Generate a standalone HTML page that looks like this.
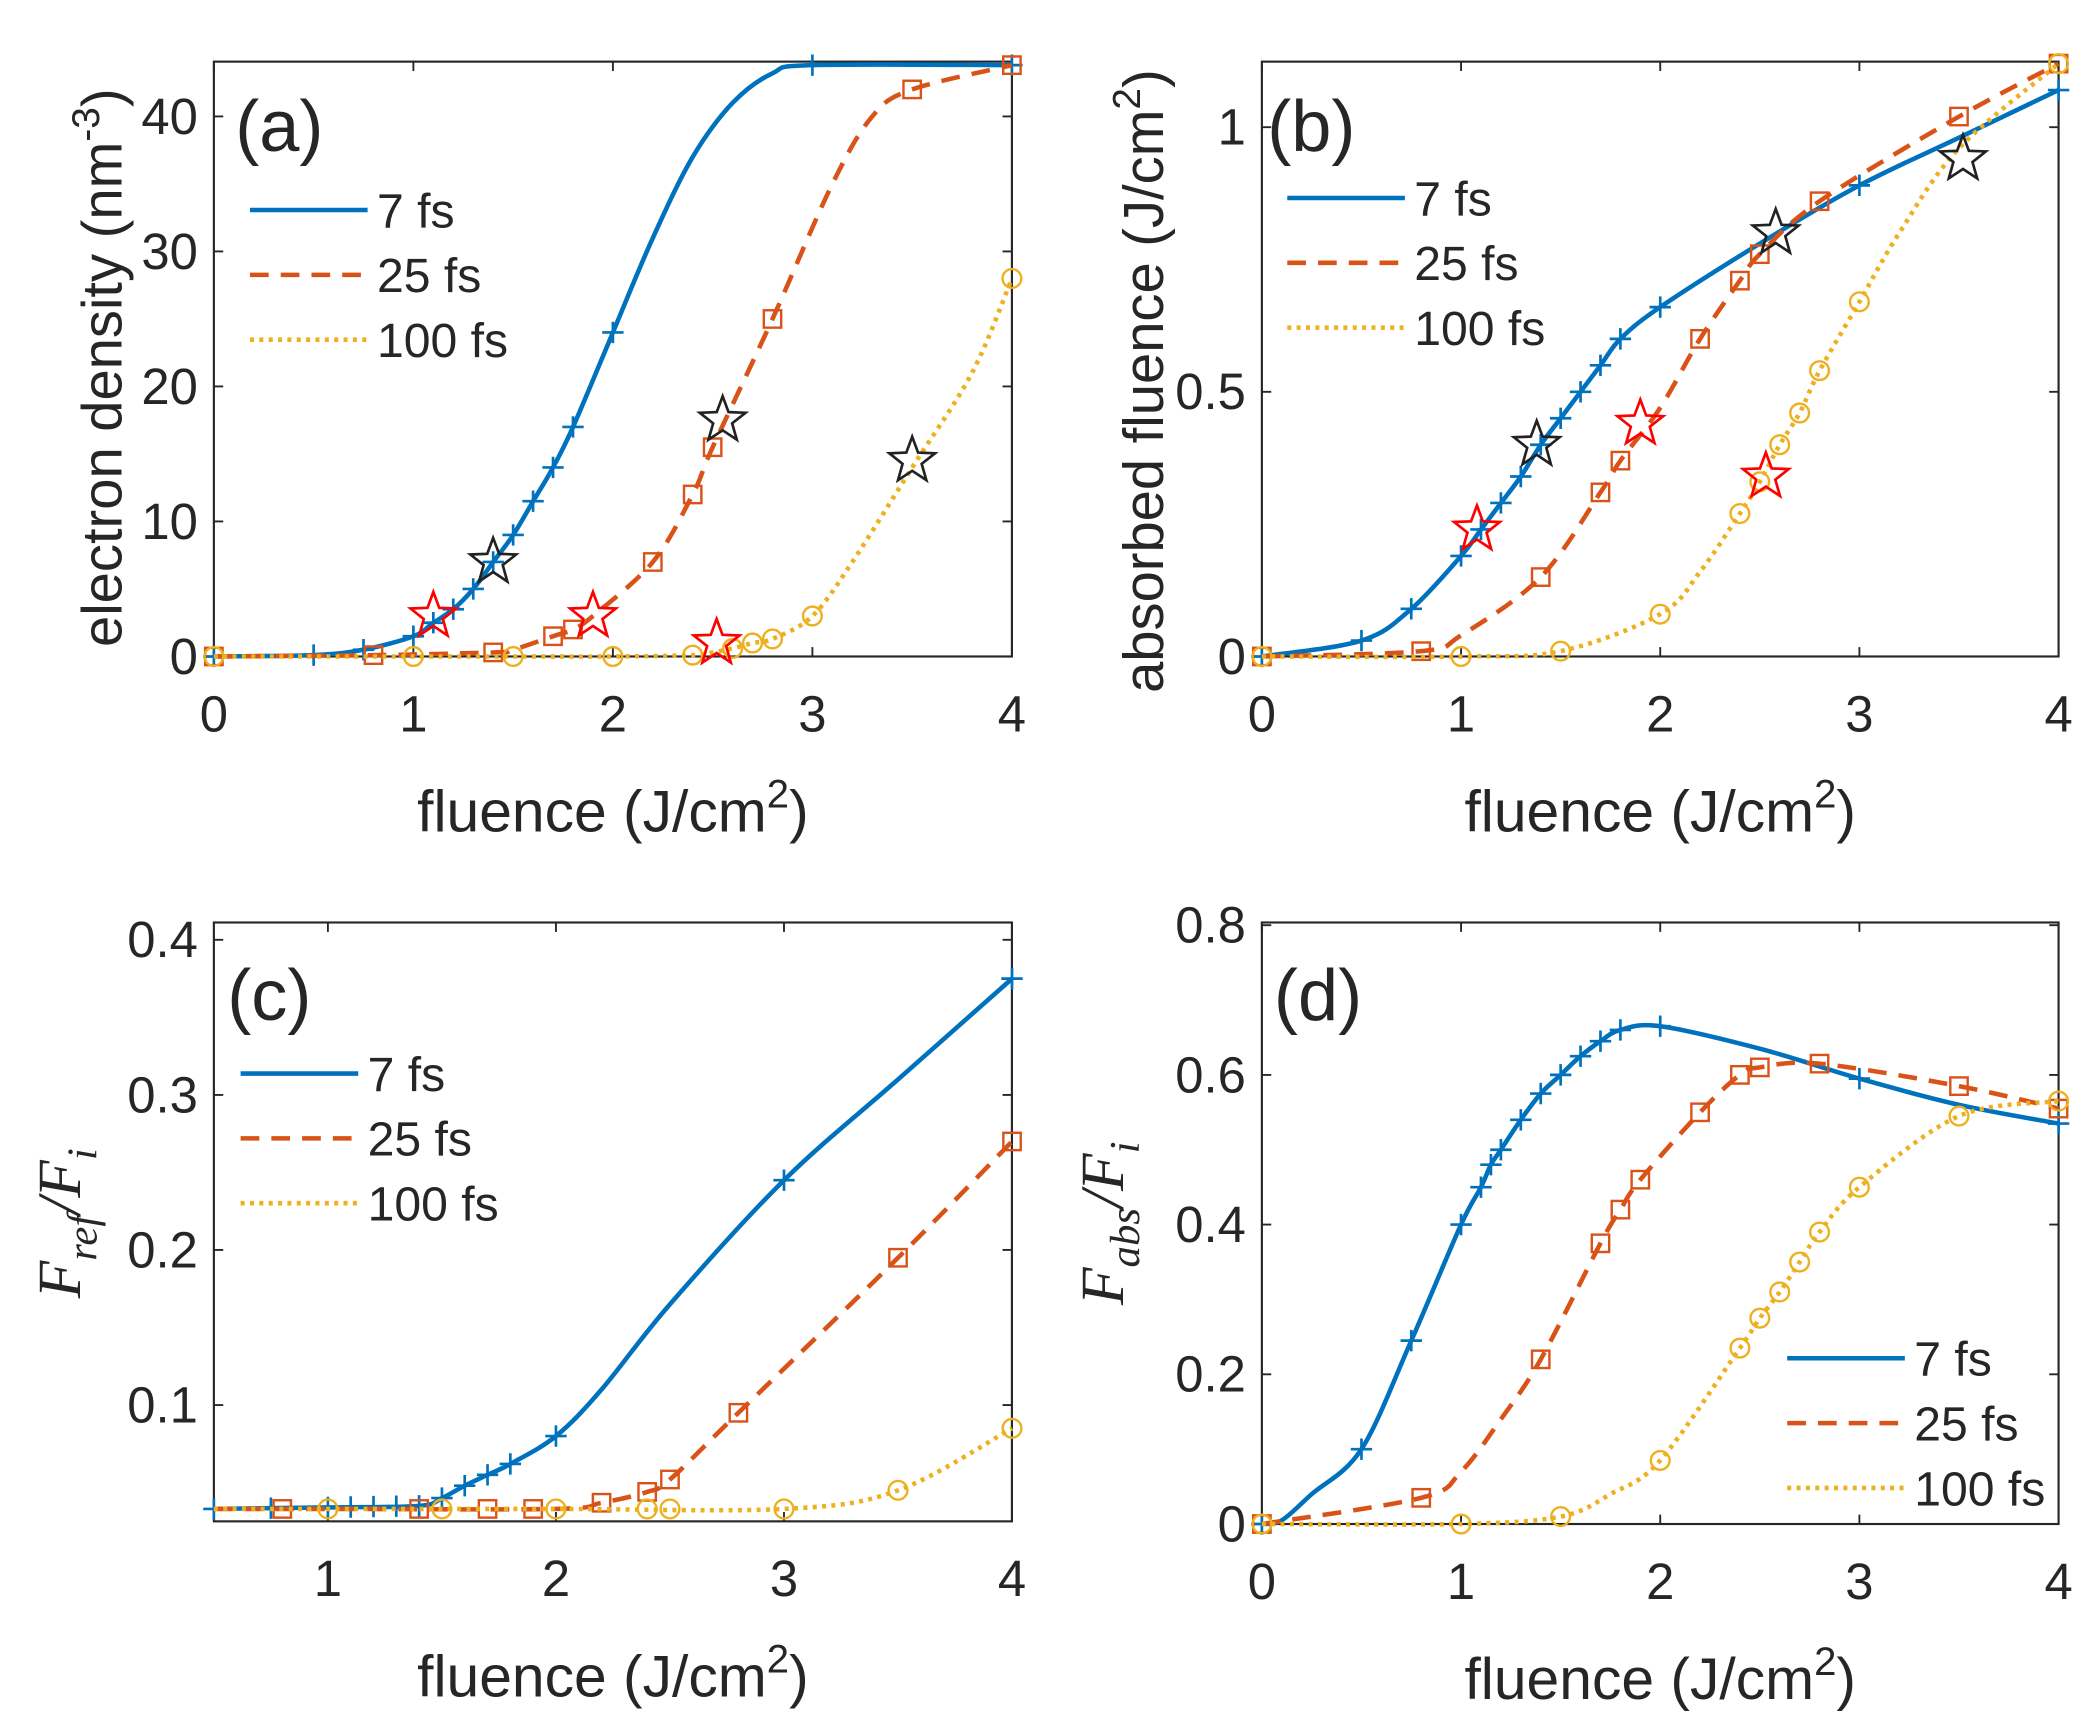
<!DOCTYPE html>
<html><head><meta charset="utf-8"><style>
html,body{margin:0;padding:0;background:#fff}
svg{display:block}
text{font-family:"Liberation Sans",Arial,sans-serif;fill:#262626}
</style></head><body>
<svg id="s" width="2096" height="1722" viewBox="0 0 1568 1288" xmlns="http://www.w3.org/2000/svg"></svg>
<script>
const S=document.getElementById('s');let out='';
const B='#0072BD',R='#D95319',Y='#EDB120';
function path(pts){let d='M'+pts[0][0].toFixed(1)+','+pts[0][1].toFixed(1);
for(let i=0;i<pts.length-1;i++){const p0=pts[Math.max(0,i-1)],p1=pts[i],p2=pts[i+1],p3=pts[Math.min(pts.length-1,i+2)];
const c1=[p1[0]+(p2[0]-p0[0])/6,p1[1]+(p2[1]-p0[1])/6],c2=[p2[0]-(p3[0]-p1[0])/6,p2[1]-(p3[1]-p1[1])/6];
d+=`C${c1[0].toFixed(1)},${c1[1].toFixed(1)} ${c2[0].toFixed(1)},${c2[1].toFixed(1)} ${p2[0].toFixed(1)},${p2[1].toFixed(1)}`;}return d;}
function interp(data,x){for(let i=0;i<data.length-1;i++){if(x>=data[i][0]-1e-9&&x<=data[i+1][0]+1e-9){const t=(x-data[i][0])/(data[i+1][0]-data[i][0]||1);return data[i][1]+t*(data[i+1][1]-data[i][1]);}}return data[data.length-1][1];}
const dash={b:'',r:'stroke-dasharray="14,9"',y:'stroke-dasharray="3,4"'};
function series(P,data,col,st,mk,mx){
 const pts=data.map(d=>[P.fx(d[0]),P.fy(d[1])]);
 out+=`<path d="${path(pts)}" fill="none" stroke="${col}" stroke-width="3.4" ${dash[st]}/>`;
 mx.forEach(x=>{const X=P.fx(x),Yv=P.fy(interp(data,x));
  if(mk=='+')out+=`<path d="M${X-8},${Yv}H${X+8}M${X},${Yv-8}V${Yv+8}" stroke="${col}" stroke-width="2"/>`;
  else if(mk=='s')out+=`<rect x="${X-6.5}" y="${Yv-6.5}" width="13" height="13" fill="none" stroke="${col}" stroke-width="1.8"/>`;
  else out+=`<circle cx="${X}" cy="${Yv}" r="7" fill="none" stroke="${col}" stroke-width="1.8"/>`;});
}
function star(P,x,y,col){const X=P.fx(x),Yv=P.fy(y);let d='';for(let i=0;i<10;i++){const r=i%2?7.5:18,a=-Math.PI/2+i*Math.PI/5;d+=(i?'L':'M')+(X+r*Math.cos(a)).toFixed(1)+','+(Yv+r*Math.sin(a)).toFixed(1);}
 out+=`<path d="${d}Z" fill="none" stroke="${col}" stroke-width="2"/>`;}
function axes(P,xt,yt){
 out+=`<rect x="${P.l}" y="${P.t}" width="${P.r-P.l}" height="${P.b-P.t}" fill="none" stroke="#262626" stroke-width="1.6"/>`;
 xt.forEach(v=>{const X=P.fx(v[0]);out+=`<path d="M${X},${P.b}v-7M${X},${P.t}v7" stroke="#262626" stroke-width="1.4"/><text x="${X}" y="${P.b+56}" font-size="38" text-anchor="middle">${v[1]}</text>`;});
 yt.forEach(v=>{const Yv=P.fy(v[0]);out+=`<path d="M${P.l},${Yv}h7M${P.r},${Yv}h-7" stroke="#262626" stroke-width="1.4"/><text x="${P.l-12}" y="${Yv+13}" font-size="38" text-anchor="end">${v[1]}</text>`;});
 out+=`<text x="${(P.l+P.r)/2}" y="${P.b+131}" font-size="44" text-anchor="middle">fluence (J/cm<tspan dy="-18" font-size="30">2</tspan><tspan dy="18">)</tspan></text>`;
}
function legend(x,y,t){const cols=[[B,'b','7 fs'],[R,'r','25 fs'],[Y,'y','100 fs']];
 cols.forEach((c,i)=>{const yy=y+i*48.5;out+=`<path d="M${x},${yy}H${x+88}" stroke="${c[0]}" stroke-width="3.4" ${dash[c[1]]}/><text x="${x+95}" y="${yy+13}" font-size="36">${c[2]}</text>`;});}
// Panel a
let A={l:160,r:757,t:46,b:491,fx:x=>160+x*149.25,fy:y=>491-y*10.1};
axes(A,[[0,0],[1,1],[2,2],[3,3],[4,4]],[[0,0],[10,10],[20,20],[30,30],[40,40]]);
series(A,[[0,0],[0.5,0.1],[0.75,0.5],[1,1.5],[1.1,2.5],[1.2,3.5],[1.3,5],[1.4,7],[1.5,9],[1.6,11.5],[1.7,14],[1.8,17],[2,24],[2.2,31],[2.4,37],[2.6,41],[2.8,43.2],[3,43.8],[4,43.8]],B,'b','+',[0,0.5,0.75,1,1.1,1.2,1.3,1.4,1.5,1.6,1.7,1.8,2,3,4]);
series(A,[[0,0],[0.8,0.1],[1.4,0.3],[1.5,0.5],[1.7,1.5],[1.8,2],[1.9,3],[2.2,7],[2.4,12],[2.5,15.5],[2.8,25],[3.1,35],[3.3,40],[3.5,42],[4,43.8]],R,'r','s',[0,0.8,1.4,1.7,1.8,2.2,2.4,2.5,2.8,3.5,4]);
series(A,[[0,0],[1,0],[1.5,0],[2,0],[2.4,0.1],[2.5,0.3],[2.6,0.6],[2.7,1],[2.8,1.3],[3,3],[3.2,7],[3.5,14],[3.8,21],[4,28]],Y,'y','o',[0,1,1.5,2,2.4,2.6,2.7,2.8,3,4]);
star(A,1.1,3,'#f00');star(A,1.9,3,'#f00');star(A,2.52,1,'#f00');star(A,1.4,7,'#222');star(A,2.55,17.5,'#222');star(A,3.5,14.5,'#222');
legend(187,157);
out+=`<text x="176" y="113" font-size="54">(a)</text>`;
out+=`<text transform="translate(91,275) rotate(-90)" font-size="42" text-anchor="middle">electron density (nm<tspan dy="-17" font-size="29">-3</tspan><tspan dy="17">)</tspan></text>`;
// Panel b
let Bp={l:944,r:1540,t:46,b:491,fx:x=>944+x*149,fy:y=>491-y*396};
axes(Bp,[[0,0],[1,1],[2,2],[3,3],[4,4]],[[0,0],[0.5,'0.5'],[1,1]]);
series(Bp,[[0,0],[0.5,0.03],[0.75,0.09],[1,0.19],[1.1,0.24],[1.2,0.29],[1.3,0.34],[1.4,0.40],[1.5,0.45],[1.6,0.50],[1.7,0.55],[1.8,0.60],[2,0.66],[2.5,0.78],[3,0.89],[3.5,0.98],[4,1.07]],B,'b','+',[0,0.5,0.75,1,1.1,1.2,1.3,1.4,1.5,1.6,1.7,1.8,2,3,4]);
series(Bp,[[0,0],[0.8,0.01],[1,0.04],[1.4,0.15],[1.7,0.31],[1.8,0.37],[2,0.47],[2.2,0.60],[2.4,0.71],[2.5,0.76],[2.8,0.86],[3.5,1.02],[4,1.12]],R,'r','s',[0,0.8,1.4,1.7,1.8,2.2,2.4,2.5,2.8,3.5,4]);
series(Bp,[[0,0],[1,0],[1.5,0.01],[2,0.08],[2.2,0.16],[2.4,0.27],[2.5,0.33],[2.6,0.40],[2.7,0.46],[2.8,0.54],[3,0.67],[3.2,0.8],[3.5,0.96],[4,1.12]],Y,'y','o',[0,1,1.5,2,2.4,2.5,2.6,2.7,2.8,3,4]);
star(Bp,1.08,0.24,'#f00');star(Bp,1.9,0.44,'#f00');star(Bp,2.53,0.34,'#f00');star(Bp,1.38,0.40,'#222');star(Bp,2.58,0.80,'#222');star(Bp,3.52,0.94,'#222');
legend(963,148);
out+=`<text x="948" y="113" font-size="54">(b)</text>`;
out+=`<text transform="translate(870,285) rotate(-90)" font-size="42" text-anchor="middle">absorbed fluence (J/cm<tspan dy="-17" font-size="29">2</tspan><tspan dy="17">)</tspan></text>`;
// Panel c
let C={l:160,r:757,t:690,b:1138,fx:x=>160+(x-0.5)*170.6,fy:y=>1138-(y-0.025)*1160};
axes(C,[[1,1],[2,2],[3,3],[4,4]],[[0.1,'0.1'],[0.2,'0.2'],[0.3,'0.3'],[0.4,'0.4']]);
series(C,[[0.5,0.033],[1,0.034],[1.4,0.035],[1.5,0.04],[1.6,0.048],[1.7,0.055],[1.8,0.062],[2,0.08],[2.2,0.11],[2.5,0.165],[3,0.245],[3.5,0.31],[4,0.375]],B,'b','+',[0.5,0.75,1,1.1,1.2,1.3,1.4,1.5,1.6,1.7,1.8,2,3,4]);
series(C,[[0.5,0.033],[1,0.033],[2,0.033],[2.2,0.037],[2.4,0.044],[2.5,0.052],[2.8,0.095],[3.5,0.195],[4,0.27]],R,'r','s',[0.8,1.4,1.7,1.9,2.2,2.4,2.5,2.8,3.5,4]);
series(C,[[0.5,0.033],[1,0.033],[2,0.033],[3,0.033],[3.5,0.045],[4,0.085]],Y,'y','o',[1,1.5,2,2.4,2.5,3,3.5,4]);
legend(180,803);
out+=`<text x="170" y="763" font-size="54">(c)</text>`;
out+=`<text transform="translate(60,915) rotate(-90)" font-size="46" text-anchor="middle" style="font-family:'Liberation Serif',serif;font-style:italic">F<tspan dy="12" font-size="32">ref</tspan><tspan dy="-12">/F</tspan><tspan dy="12" font-size="32">i</tspan></text>`;
// Panel d
let D={l:944,r:1540,t:690,b:1140,fx:x=>944+x*149,fy:y=>1140-y*560};
axes(D,[[0,0],[1,1],[2,2],[3,3],[4,4]],[[0,0],[0.2,'0.2'],[0.4,'0.4'],[0.6,'0.6'],[0.8,'0.8']]);
series(D,[[0,0],[0.1,0.005],[0.25,0.04],[0.5,0.10],[0.75,0.245],[1,0.40],[1.1,0.45],[1.15,0.48],[1.2,0.50],[1.3,0.54],[1.4,0.575],[1.5,0.60],[1.6,0.625],[1.7,0.645],[1.8,0.66],[2,0.665],[2.5,0.635],[3,0.595],[3.5,0.56],[4,0.535]],B,'b','+',[0,0.5,0.75,1,1.1,1.15,1.2,1.3,1.4,1.5,1.6,1.7,1.8,2,3,4]);
series(D,[[0,0],[0.8,0.035],[1,0.07],[1.2,0.14],[1.4,0.22],[1.7,0.375],[1.8,0.42],[1.9,0.46],[2.2,0.55],[2.4,0.60],[2.5,0.61],[2.8,0.615],[3.5,0.585],[4,0.555]],R,'r','s',[0,0.8,1.4,1.7,1.8,1.9,2.2,2.4,2.5,2.8,3.5,4]);
series(D,[[0,0],[1,0],[1.5,0.01],[1.75,0.04],[2,0.085],[2.4,0.235],[2.5,0.275],[2.6,0.31],[2.7,0.35],[2.8,0.39],[3,0.45],[3.5,0.545],[4,0.565]],Y,'y','o',[0,1,1.5,2,2.4,2.5,2.6,2.7,2.8,3,3.5,4]);
legend(1337,1016);
out+=`<text x="953" y="763" font-size="54">(d)</text>`;
out+=`<text transform="translate(840,915) rotate(-90)" font-size="46" text-anchor="middle" style="font-family:'Liberation Serif',serif;font-style:italic">F<tspan dy="12" font-size="32">abs</tspan><tspan dy="-12">/F</tspan><tspan dy="12" font-size="32">i</tspan></text>`;
S.innerHTML=out;
</script>
</body></html>
